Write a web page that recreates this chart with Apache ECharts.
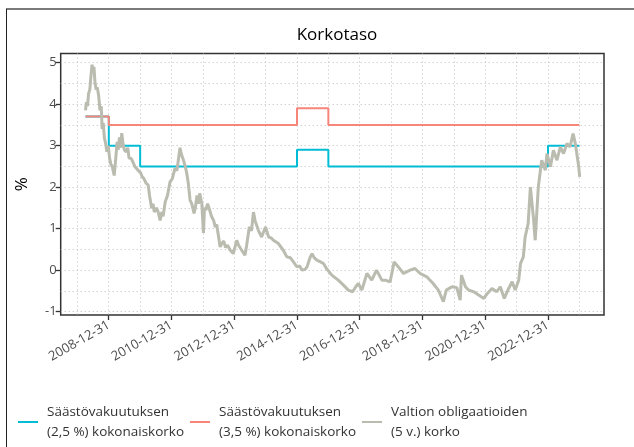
<!DOCTYPE html>
<html>
<head>
<meta charset="utf-8">
<script src="https://cdn.jsdelivr.net/npm/echarts@6.0.0/dist/echarts.min.js"></script>
<style>
html, body { margin: 0; padding: 0; background: #fff; }
#chart { width: 634px; height: 447px; }
</style>
</head>
<body>
<div id="chart"></div>
<script>
//säästövakuutusten korot (porras alkaa päivästä)
var stepDates = ['2008-04-05', '2009-01-01', '2010-01-01', '2015-01-01', '2016-01-01', '2023-01-01', '2024-01-01'];
var rate25 = [3.7, 3.0, 2.5, 2.9, 2.5, 3.0, 3.0];
var rate35 = [3.7, 3.5, 3.5, 3.9, 3.5, 3.5, 3.5];

//valtion obligaatioiden 5 v. korko
var bondDates = [
    '2008-04-05', '2008-04-15', '2008-04-28', '2008-05-10', '2008-05-25', '2008-06-08', '2008-06-20', '2008-07-01',
    '2008-07-12', '2008-07-25', '2008-08-08', '2008-08-20', '2008-09-05', '2008-09-20', '2008-10-05', '2008-10-15',
    '2008-10-28', '2008-11-10', '2008-11-25', '2008-12-10', '2008-12-25', '2009-01-10', '2009-01-25', '2009-02-10',
    '2009-03-05', '2009-03-25', '2009-04-08', '2009-04-20', '2009-05-05', '2009-05-20', '2009-06-01', '2009-06-15',
    '2009-07-01', '2009-07-20', '2009-08-10', '2009-08-25', '2009-09-20', '2009-10-10', '2009-10-30', '2009-11-20',
    '2009-12-10', '2010-01-05', '2010-01-25', '2010-02-15', '2010-03-10', '2010-04-05', '2010-04-20', '2010-05-15',
    '2010-05-30', '2010-06-15', '2010-07-10', '2010-07-30', '2010-08-22', '2010-09-10', '2010-09-25', '2010-10-20',
    '2010-11-15', '2010-12-15', '2011-01-10', '2011-02-10', '2011-03-05', '2011-04-10', '2011-04-25', '2011-05-20',
    '2011-06-10', '2011-06-28', '2011-07-15', '2011-08-05', '2011-08-25', '2011-09-20', '2011-10-05', '2011-10-25',
    '2011-11-10', '2011-11-25', '2011-12-20', '2012-01-08', '2012-01-20', '2012-02-05', '2012-02-25', '2012-03-20',
    '2012-04-10', '2012-05-05', '2012-05-25', '2012-06-10', '2012-07-20', '2012-08-10', '2012-09-01', '2012-09-20',
    '2012-10-15', '2012-11-15', '2012-12-20', '2013-01-30', '2013-02-20', '2013-03-28', '2013-05-05', '2013-05-25',
    '2013-06-25', '2013-07-20', '2013-08-12', '2013-08-30', '2013-10-08', '2013-11-15', '2013-12-30', '2014-02-05',
    '2014-03-05', '2014-04-01', '2014-05-30', '2014-07-25', '2014-09-05', '2014-10-15', '2014-11-20', '2015-01-01',
    '2015-02-01', '2015-03-01', '2015-04-05', '2015-04-28', '2015-06-01', '2015-06-25', '2015-07-20', '2015-08-20',
    '2015-10-01', '2015-11-05', '2015-12-10', '2016-02-10', '2016-04-25', '2016-06-25', '2016-08-20', '2016-10-10',
    '2016-11-15', '2016-12-15', '2017-01-25', '2017-03-25', '2017-05-20', '2017-07-15', '2017-09-15', '2017-10-25',
    '2017-12-20', '2018-02-05', '2018-03-25', '2018-05-25', '2018-08-10', '2018-10-05', '2018-12-05', '2019-02-20',
    '2019-05-05', '2019-07-05', '2019-09-01', '2019-10-05', '2019-12-10', '2020-02-05', '2020-03-15', '2020-03-30',
    '2020-05-15', '2020-06-20', '2020-08-20', '2020-10-15', '2020-12-15', '2021-01-25', '2021-03-20', '2021-05-15',
    '2021-06-25', '2021-08-10', '2021-09-30', '2021-11-10', '2021-12-15', '2022-01-25', '2022-02-15', '2022-03-20',
    '2022-04-10', '2022-05-15', '2022-06-10', '2022-07-15', '2022-08-05', '2022-09-10', '2022-10-20', '2022-12-01',
    '2022-12-20', '2023-01-30', '2023-03-05', '2023-04-15', '2023-05-25', '2023-07-01', '2023-08-10', '2023-09-15',
    '2023-10-20', '2023-11-15', '2023-12-25', '2024-01-05'
];
var bondYield = [
    3.85, 4.05, 3.95, 4.25, 4.35, 4.70, 4.95, 4.80,
    4.90, 4.50, 4.35, 4.40, 4.20, 3.85, 3.95, 3.40,
    3.55, 3.20, 3.05, 2.85, 3.00, 2.70, 2.55, 2.50,
    2.28, 2.75, 3.09, 2.90, 3.20, 2.95, 3.30, 3.05,
    2.90, 2.85, 2.95, 2.70, 2.69, 2.60, 2.50, 2.45,
    2.40, 2.35, 2.25, 2.20, 2.10, 2.05, 1.80, 1.49,
    1.60, 1.40, 1.50, 1.40, 1.20, 1.40, 1.30, 1.65,
    1.80, 2.13, 2.20, 2.45, 2.40, 2.95, 2.80, 2.65,
    2.50, 2.33, 2.10, 1.69, 1.60, 1.37, 1.50, 1.80,
    1.60, 1.85, 1.60, 0.90, 1.50, 1.45, 1.60, 1.45,
    1.30, 1.20, 1.04, 1.10, 0.56, 0.65, 0.70, 0.55,
    0.60, 0.48, 0.40, 0.72, 0.60, 0.48, 0.36, 0.60,
    1.04, 0.95, 1.40, 1.20, 0.96, 0.80, 1.04, 0.80,
    0.78, 0.72, 0.64, 0.48, 0.32, 0.30, 0.20, 0.08,
    0.10, 0.00, 0.02, 0.08, 0.30, 0.40, 0.30, 0.24,
    0.20, 0.16, 0.04, -0.12, -0.24, -0.36, -0.48, -0.52,
    -0.40, -0.32, -0.48, -0.08, -0.24, 0.00, -0.24, -0.24,
    -0.28, 0.20, 0.08, -0.08, 0.00, 0.04, -0.08, -0.16,
    -0.32, -0.48, -0.76, -0.48, -0.40, -0.42, -0.72, -0.12,
    -0.40, -0.48, -0.52, -0.60, -0.68, -0.56, -0.44, -0.52,
    -0.40, -0.68, -0.44, -0.28, -0.48, -0.24, 0.16, 0.32,
    0.80, 1.12, 2.00, 1.28, 0.72, 2.00, 2.65, 2.41,
    2.81, 2.49, 2.89, 2.65, 2.97, 2.81, 3.05, 2.97,
    3.29, 3.05, 2.49, 2.25
];

//akselit
var xTickDates = ['2008-12-31', '2010-12-31', '2012-12-31', '2014-12-31', '2016-12-31', '2018-12-31', '2020-12-31', '2022-12-31'];
var xGridDates = ['2007-12-31', '2008-12-31', '2009-12-31', '2010-12-31', '2011-12-31', '2012-12-31', '2013-12-31', '2014-12-31',
    '2015-12-31', '2016-12-31', '2017-12-31', '2018-12-31', '2019-12-31', '2020-12-31', '2021-12-31', '2022-12-31', '2023-12-31'];
var yTicks = [-1, 0, 1, 2, 3, 4, 5];
var yGrid = [-1, -0.5, 0, 0.5, 1, 1.5, 2, 2.5, 3, 3.5, 4, 4.5, 5];

var names = [
    'Säästövakuutuksen (2,5 %) kokonaiskorko',
    'Säästövakuutuksen (3,5 %) kokonaiskorko',
    'Valtion obligaatioiden (5 v.) korko'
];
var colors = ['#00BCD4', '#F8857A', '#B9BCAF'];

function ts(d) {
    var p = d.split('-');
    return Date.UTC(+p[0], +p[1] - 1, +p[2]);
}
function pad(n) { return (n < 10 ? '0' : '') + n; }
function fmtDate(v) {
    var d = new Date(v);
    return d.getUTCFullYear() + '-' + pad(d.getUTCMonth() + 1) + '-' + pad(d.getUTCDate());
}
function pairs(dates, vals) {
    return dates.map(function (d, i) { return [ts(d), vals[i]]; });
}

var xMin = ts('2007-06-21'), xMax = ts('2024-10-14');
var yMin = -1.08, yMax = 5.22;
var dotted = { type: [1, 3], color: '#bdbdbd', width: 1 };

function legendAt(i, left) {
    return {
        data: [{ name: names[i], icon: 'rect' }],
        left: left,
        top: 397,
        itemWidth: 20,
        itemHeight: 2,
        formatter: function (n) { return n.replace(' (', '\n('); },
        textStyle: { fontSize: 13.5, color: '#333', lineHeight: 20, padding: [0, 0, 0, 4] }
    };
}

var chart = echarts.init(document.getElementById('chart'));
chart.setOption({
    animation: false,
    textStyle: { fontFamily: 'Open Sans' },
    title: {
        text: 'Korkotaso',
        left: 332,
        top: 22,
        textAlign: 'center',
        textStyle: { fontSize: 17, fontWeight: 'normal', color: '#000' }
    },
    graphic: [
        { type: 'line', shape: { x1: 6, y1: 9, x2: 634, y2: 9 }, style: { stroke: '#7a7a7a', lineWidth: 2 } },
        { type: 'line', shape: { x1: 6.5, y1: 9, x2: 6.5, y2: 447 }, style: { stroke: '#222', lineWidth: 1 } }
    ],
    legend: [legendAt(0, 13), legendAt(1, 185), legendAt(2, 357)],
    grid: {
        left: 60.7,
        top: 53.5,
        right: 30,
        bottom: 132,
        show: true,
        borderColor: '#333',
        borderWidth: 1.5,
        outerBoundsMode: 'none'
    },
    xAxis: [
        {
            type: 'value',
            min: xMin,
            max: xMax,
            axisLine: { show: false, onZero: false },
            axisTick: { show: true, customValues: xTickDates.map(ts), length: 5, lineStyle: { color: '#333', width: 1.3 } },
            axisLabel: { customValues: xTickDates.map(ts), formatter: fmtDate, rotate: 30, color: '#4d4d4d', fontSize: 13, margin: 9 },
            splitLine: { show: false }
        },
        {
            type: 'value',
            min: xMin,
            max: xMax,
            axisLine: { show: false, onZero: false },
            axisTick: { show: false, customValues: xGridDates.map(ts) },
            axisLabel: { show: false },
            splitLine: { show: true, lineStyle: dotted }
        }
    ],
    yAxis: [
        {
            type: 'value',
            min: yMin,
            max: yMax,
            name: '%',
            nameLocation: 'middle',
            nameGap: 30,
            nameTextStyle: { fontSize: 17, color: '#000' },
            axisLine: { show: false, onZero: false },
            axisTick: { show: true, customValues: yTicks, length: 5, lineStyle: { color: '#333', width: 1.3 } },
            axisLabel: { customValues: yTicks, color: '#4d4d4d', fontSize: 13, margin: 4 },
            splitLine: { show: false }
        },
        {
            type: 'value',
            min: yMin,
            max: yMax,
            axisLine: { show: false, onZero: false },
            axisTick: { show: false, customValues: yGrid },
            axisLabel: { show: false },
            splitLine: { show: true, lineStyle: dotted }
        }
    ],
    series: [
        {
            name: names[0],
            type: 'line',
            step: 'end',
            symbol: 'none',
            data: pairs(stepDates, rate25),
            itemStyle: { color: colors[0] },
            lineStyle: { color: colors[0], width: 2 }
        },
        {
            name: names[1],
            type: 'line',
            step: 'end',
            symbol: 'none',
            data: pairs(stepDates, rate35),
            itemStyle: { color: colors[1] },
            lineStyle: { color: colors[1], width: 2 }
        },
        {
            name: names[2],
            type: 'line',
            symbol: 'none',
            data: pairs(bondDates, bondYield),
            itemStyle: { color: colors[2] },
            lineStyle: { color: colors[2], width: 3 }
        }
    ]
});
</script>
</body>
</html>
